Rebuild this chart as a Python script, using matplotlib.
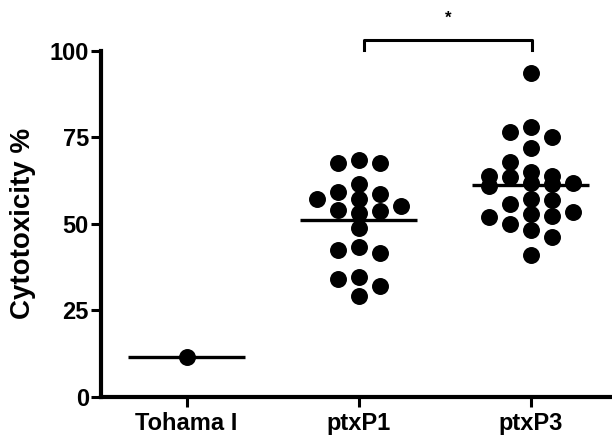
import numpy as np
import matplotlib
matplotlib.use("Agg")
import matplotlib.pyplot as plt

plt.rcParams['font.family'] = ['Liberation Sans', 'DejaVu Sans']
plt.rcParams['font.weight'] = 'bold'

groups = ["Tohama I", "ptxP1", "ptxP3"]
tohama = [11.4]
ptxp1 = [68.3, 67.6, 67.6, 61.4, 59.3, 58.7, 57.1, 57.1, 55.1, 54.0,
         53.7, 53.2, 48.7, 43.3, 42.4, 41.5, 34.7, 34.0, 31.9, 29.0]
ptxp3 = [93.6, 77.9, 76.5, 75.0, 72.0, 67.9, 65.0, 63.8, 63.8, 63.5,
         61.7, 61.7, 61.4, 60.9, 57.1, 56.8, 55.6, 53.4, 52.9, 52.1,
         51.8, 49.9, 48.2, 46.2, 41.0]
yticks = [0, 25, 50, 75, 100]
signif = "*"


def swarm(vals, step=0.122, gap=4.2, ncol=2):
    # spread points sideways into at most 2*ncol+1 columns
    cols = list(range(-ncol, ncol + 1))
    placed = []
    offs = []
    for v in vals:
        left = sum(1 for c, _ in placed if c < 0)
        right = sum(1 for c, _ in placed if c > 0)
        side = 1 if left > right else -1
        pref = sorted(cols, key=lambda k: (abs(k), 0 if k * side >= 0 else 1))
        clear = {}
        for k in cols:
            d = [abs(y - v) for c, y in placed if c == k]
            clear[k] = min(d) if d else 1e9
        free = [k for k in pref if clear[k] >= gap]
        k = free[0] if free else max(pref, key=lambda k: clear[k])
        placed.append((k, v))
        offs.append(k * step)
    return np.array(offs)


fig = plt.figure(figsize=(6.12, 4.36), dpi=100)
ax = fig.add_axes([0.1645, 0.0901, 0.843, 0.7936])

for i, vals in enumerate([tohama, ptxp1, ptxp3]):
    x = i + swarm(vals)
    ax.scatter(x, vals, s=125, color='black', zorder=3, clip_on=False)
    m = np.mean(vals)
    ax.plot([i - 0.34, i + 0.34], [m, m], color='black', lw=2.4, zorder=4,
            solid_capstyle='butt')

# significance bracket
ax.plot([1.03, 1.03, 2.01, 2.01], [100.2, 103.1, 103.1, 100.2], color='black',
        lw=2.2, clip_on=False)
ax.text(1.52, 109.5, signif, ha='center', va='center', fontsize=12,
        fontweight='bold')

ax.set_xlim(-0.5, 2.5)
ax.set_ylim(0, 100)
ax.set_xticks(range(3))
ax.set_xticklabels(groups, fontsize=17)
ax.set_yticks(yticks)
ax.set_yticklabels([str(t) for t in yticks], fontsize=17)
ax.set_ylabel("Cytotoxicity %", fontsize=20, fontweight='bold')
ax.yaxis.set_label_coords(-0.125, 0.5)

for s in ['top', 'right']:
    ax.spines[s].set_visible(False)
for s in ['left', 'bottom']:
    ax.spines[s].set_linewidth(3)
ax.tick_params(axis='y', length=7.5, width=2.2, pad=1)
ax.tick_params(axis='x', length=7, width=2.2, pad=4)

fig.savefig("out.png", dpi=100)
